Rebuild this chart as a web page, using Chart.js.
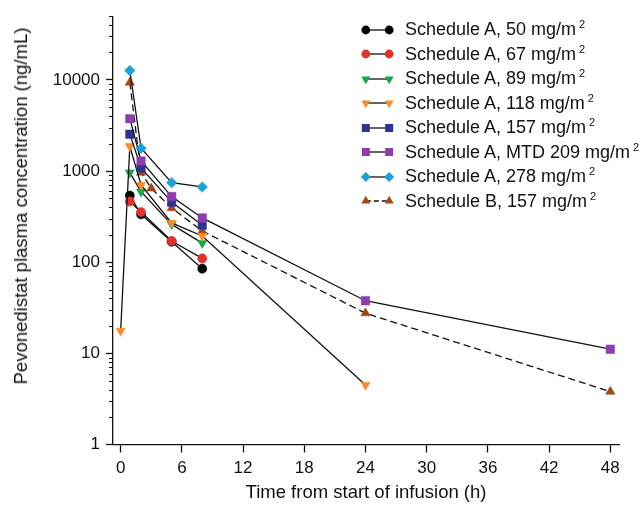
<!DOCTYPE html>
<html>
<head>
<meta charset="utf-8">
<script src="https://cdn.jsdelivr.net/npm/chart.js@4.4.1/dist/chart.umd.min.js"></script>
<style>
  html, body { margin: 0; padding: 0; background: #fff; }
  #wrap { position: relative; width: 644px; height: 507px; }
  #legend {
    position: absolute; left: 360px; top: 17.5px;
    font-family: 'Liberation Sans', Arial, sans-serif; font-size: 18px; color: #111;
  }
  .row { display: flex; align-items: center; height: 24.5px; white-space: nowrap; }
  .row svg { width: 35px; height: 14px; margin-right: 10px; flex: none; }
  .row sup { font-size: 11px; vertical-align: 7px; line-height: 0; margin-left: 3px; }
  #ytitle {
    position: absolute; left: 21px; top: 206px; width: 0; height: 0;
    font-family: 'Liberation Sans', Arial, sans-serif; font-size: 18.5px; color: #111;
  }
  #ytitle span {
    position: absolute; white-space: nowrap;
    transform: translate(-50%, -50%) rotate(-90deg); left: 0; top: 0;
  }
</style>
</head>
<body>
<div id="wrap">
  <canvas id="pkChart" width="644" height="507"></canvas>
  <div id="ytitle"><span></span></div>
  <div id="legend"></div>
</div>
<script>
// sampling times (h)
const timesA = [0.9, 2, 5, 8];
const timesA118 = [0, 0.9, 2, 5, 8, 24];
const timesA209 = [0.9, 2, 5, 8, 24, 48];
const timesB = [0.9, 2, 3, 5, 8, 24, 48];

// mean plasma concentrations (ng/mL)
const concA50 = [538, 335, 168, 85];
const concA67 = [464, 355, 171, 110];
const concA89 = [962, 595, 260, 162];
const concA118 = [17.6, 1870, 703, 270, 194, 4.5];
const concA157 = [2540, 1082, 456, 255];
const concA209 = [3757, 1288, 525, 306, 37.8, 11.1];
const concA278 = [12650, 1780, 745, 669];
const concB157 = [9370, 962, 646, 393, 220, 27.6, 3.8];

const seriesLabels = [
  'Schedule A, 50 mg/m²',
  'Schedule A, 67 mg/m²',
  'Schedule A, 89 mg/m²',
  'Schedule A, 118 mg/m²',
  'Schedule A, 157 mg/m²',
  'Schedule A, MTD 209 mg/m²',
  'Schedule A, 278 mg/m²',
  'Schedule B, 157 mg/m²'
];

const xTickValues = [0, 6, 12, 18, 24, 30, 36, 42, 48];
const yTickValues = [1, 10, 100, 1000, 10000];

const xTitle = 'Time from start of infusion (h)';
const yTitle = 'Pevonedistat plasma concentration (ng/mL)';

const FONT = "'Liberation Sans', Arial, sans-serif";

function pts(times, conc) {
  return times.map((t, i) => ({ x: t, y: conc[i] }));
}

// marker look for each series: [colour, style, radius, rotation, dashed, draw order]
const looks = [
  ['#000000', 'circle', 4.6, 0, false, 8],
  ['#e2322c', 'circle', 4.6, 0, false, 7],
  ['#11a84c', 'triangle', 5.4, 180, false, 6],
  ['#f68c2b', 'triangle', 5.4, 180, false, 5],
  ['#2e3490', 'rect', 6, 0, false, 4],
  ['#8c3dae', 'rect', 6, 0, false, 3],
  ['#1ea0d8', 'rectRot', 5.3, 0, false, 2],
  ['#a4461c', 'triangle', 5.4, 0, true, 9]
];

const seriesData = [
  pts(timesA, concA50),
  pts(timesA, concA67),
  pts(timesA, concA89),
  pts(timesA118, concA118),
  pts(timesA, concA157),
  pts(timesA209, concA209),
  pts(timesA, concA278),
  pts(timesB, concB157)
];

const datasets = seriesData.map((d, i) => {
  const [col, style, r, rot, dashed, ord] = looks[i];
  return {
    label: seriesLabels[i],
    data: d,
    borderColor: '#111',
    borderWidth: 1.3,
    borderDash: dashed ? [7, 4] : [],
    pointStyle: style,
    pointRadius: r,
    pointRotation: rot,
    pointBackgroundColor: col,
    pointBorderColor: col,
    pointBorderWidth: 0.5,
    tension: 0,
    order: ord
  };
});

// short minor ticks on the log axis
const minorTicks = {
  id: 'minorTicks',
  afterDraw(chart) {
    const s = chart.scales.y;
    const ctx = chart.ctx;
    ctx.save();
    ctx.strokeStyle = '#111';
    ctx.lineWidth = 1.2;
    ctx.beginPath();
    for (let d = 1; d <= 10000; d *= 10) {
      for (let k = 2; k <= 9; k++) {
        const v = k * d;
        if (v > s.max) break;
        const py = Math.round(s.getPixelForValue(v)) + 0.5;
        ctx.moveTo(s.right - 4, py);
        ctx.lineTo(s.right, py);
      }
    }
    ctx.stroke();
    ctx.restore();
  }
};

new Chart(document.getElementById('pkChart').getContext('2d'), {
  type: 'line',
  data: { datasets: datasets },
  options: {
    responsive: false,
    animation: false,
    events: [],
    devicePixelRatio: 1,
    layout: { padding: { top: 12, right: 25, left: 0, bottom: 0 } },
    plugins: {
      legend: { display: false },
      tooltip: { enabled: false }
    },
    scales: {
      x: {
        type: 'linear',
        min: -0.75,
        max: 48.85,
        afterBuildTicks: (scale) => { scale.ticks = xTickValues.map(v => ({ value: v })); },
        afterFit: (scale) => { scale.height = 62.5; },
        grid: { drawOnChartArea: false, tickLength: 8, tickColor: '#111', tickWidth: 1.3 },
        border: { color: '#111', width: 1.3 },
        ticks: { color: '#111', font: { family: FONT, size: 17 }, padding: 6, maxRotation: 0 },
        title: {
          display: true, text: xTitle, color: '#111',
          font: { family: FONT, size: 18.5 }, padding: { top: 0, bottom: 3 }
        }
      },
      y: {
        type: 'logarithmic',
        min: 1,
        max: 50000,
        afterBuildTicks: (scale) => { scale.ticks = yTickValues.map(v => ({ value: v })); },
        afterFit: (scale) => { scale.width = 113; },
        grid: { drawOnChartArea: false, tickLength: 7, tickColor: '#111', tickWidth: 1.3 },
        border: { color: '#111', width: 1.3 },
        ticks: {
          color: '#111', font: { family: FONT, size: 17 }, padding: 6,
          callback: (v) => String(v)
        },
        title: { display: false }
      }
    }
  },
  plugins: [minorTicks]
});

document.querySelector('#ytitle span').textContent = yTitle;

// legend with a marker at both ends of the line, as in the figure
function markerSvg(i) {
  const [col, style, , rot, dashed] = looks[i];
  const cy = 7;
  const shape = (cx) => {
    if (style === 'circle') return `<circle cx="${cx}" cy="${cy}" r="4.4" fill="${col}"/>`;
    if (style === 'rect') return `<rect x="${cx - 4}" y="${cy - 4}" width="8" height="8" fill="${col}"/>`;
    if (style === 'rectRot') return `<polygon points="${cx},${cy - 5} ${cx + 5},${cy} ${cx},${cy + 5} ${cx - 5},${cy}" fill="${col}"/>`;
    if (rot === 180) return `<polygon points="${cx - 4.5},${cy - 2.6} ${cx + 4.5},${cy - 2.6} ${cx},${cy + 5.2}" fill="${col}"/>`;
    return `<polygon points="${cx - 4.5},${cy + 2.6} ${cx + 4.5},${cy + 2.6} ${cx},${cy - 5.2}" fill="${col}"/>`;
  };
  const dash = dashed ? ' stroke-dasharray="5,3"' : '';
  return `<svg viewBox="0 0 35 14"><line x1="5.8" y1="${cy}" x2="29.2" y2="${cy}" stroke="#111" stroke-width="1.3"${dash}/>` +
    shape(5.8) + shape(29.2) + '</svg>';
}

document.getElementById('legend').innerHTML = seriesLabels.map((lab, i) =>
  `<div class="row">${markerSvg(i)}<span>${lab.replace('²', '<sup>2</sup>')}</span></div>`
).join('');
</script>
</body>
</html>
